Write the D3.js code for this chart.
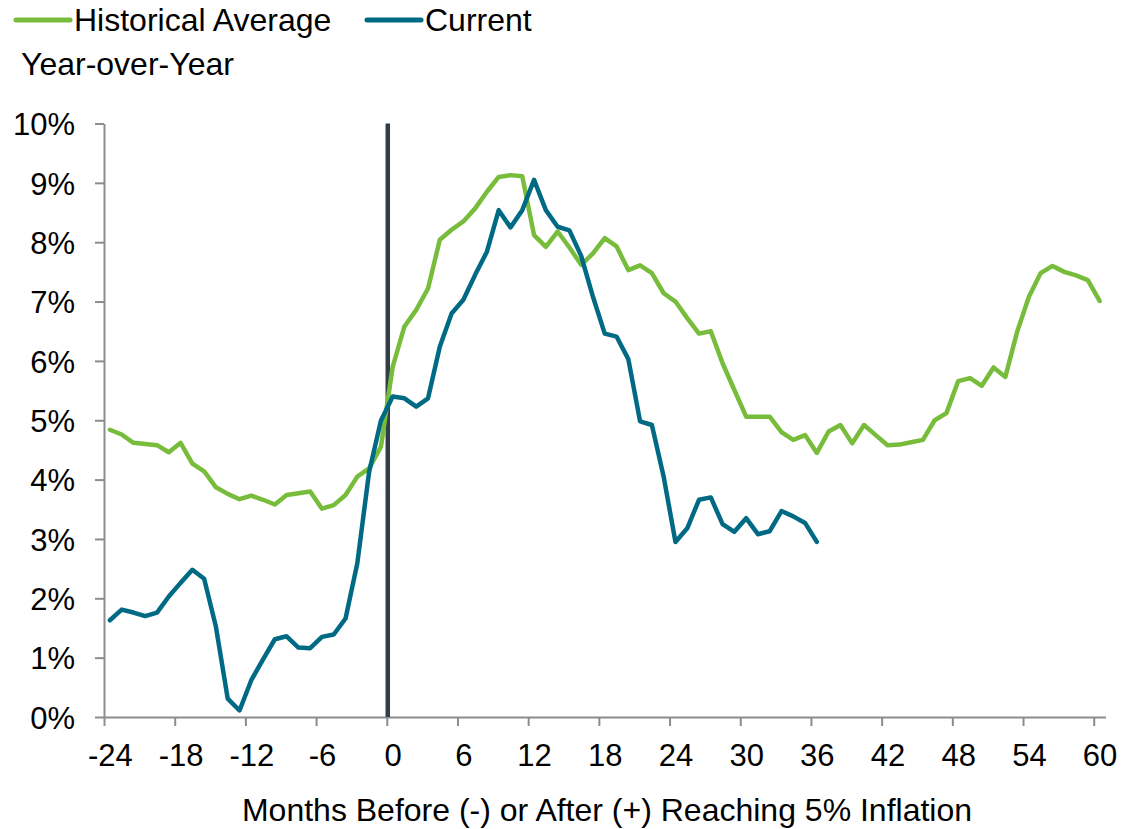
<!DOCTYPE html>
<html>
<head>
<meta charset="utf-8">
<script src="https://cdn.jsdelivr.net/npm/d3@7/dist/d3.min.js"></script>
<style>
  body { margin: 0; background: #fff; }
  svg { display: block; font-family: "Liberation Sans", Arial, sans-serif; }
</style>
</head>
<body>
<div class="chart"></div>
<script>
// months relative to reaching 5% inflation
var histMonths = d3.range(-24, 61);
var currMonths = d3.range(-24, 37);

// year-over-year inflation, percent
var historical = [
  4.84, 4.76, 4.62, 4.60, 4.58, 4.46, 4.62, 4.27, 4.14, 3.87, 3.76, 3.67,
  3.73, 3.66, 3.58, 3.74, 3.77, 3.80, 3.51, 3.57, 3.74, 4.05, 4.19, 4.55,
  5.90, 6.58, 6.86, 7.22, 8.04, 8.21, 8.35, 8.57, 8.85, 9.10, 9.13, 9.11,
  8.12, 7.92, 8.18, 7.91, 7.62, 7.81, 8.07, 7.93, 7.53, 7.61, 7.48, 7.14,
  7.00, 6.72, 6.46, 6.50, 5.96, 5.51, 5.06, 5.06, 5.06, 4.80, 4.67, 4.75,
  4.45, 4.81, 4.92, 4.61, 4.92, 4.75, 4.58, 4.59, 4.63, 4.67, 5.00, 5.12,
  5.66, 5.71, 5.58, 5.89, 5.73, 6.49, 7.08, 7.48, 7.60, 7.50, 7.44, 7.36,
  7.01
];
var current = [
  1.63, 1.81, 1.76, 1.70, 1.76, 2.03, 2.26, 2.48, 2.33, 1.52, 0.31, 0.11,
  0.62, 0.97, 1.31, 1.36, 1.17, 1.16, 1.35, 1.39, 1.66, 2.59, 4.13, 4.99,
  5.40, 5.37, 5.23, 5.37, 6.24, 6.80, 7.03, 7.45, 7.84, 8.54, 8.25, 8.54,
  9.05, 8.54, 8.26, 8.20, 7.77, 7.08, 6.46, 6.41, 6.03, 4.98, 4.92, 4.05,
  2.95, 3.18, 3.66, 3.70, 3.25, 3.12, 3.35, 3.08, 3.13, 3.47, 3.38, 3.27,
  2.95
];
var yTicks = d3.range(0, 11);
var xTicks = d3.range(-24, 61, 6);

var width = 1145, height = 829;
var green = "#77bc3b", teal = "#006a85", axisGrey = "#8c8c8c";

var svg = d3.select(".chart").append("svg")
  .attr("width", width).attr("height", height);

// categories sit between tick marks
var x = d3.scaleLinear().domain([-24.5, 60.5]).range([104, 1105.5]);
var y = d3.scaleLinear().domain([0, 10]).range([717, 123.5]);
var half = x(0) - x(-0.5);

var xAxis = svg.append("g")
  .attr("transform", "translate(0," + y(0) + ")")
  .call(d3.axisBottom(x)
    .tickValues(xTicks.map(function(d) { return d - 0.5; }))
    .tickSize(9).tickSizeOuter(0)
    .tickFormat(function(d) { return d + 0.5; }));
xAxis.selectAll("text").attr("x", half).attr("y", 49).attr("dy", 0)
  .style("font-size", "31px").style("fill", "#000");

var yAxis = svg.append("g")
  .attr("transform", "translate(" + x(-24.5) + ",0)")
  .call(d3.axisLeft(y).tickValues(yTicks).tickSize(9).tickSizeOuter(0)
    .tickFormat(function(d) { return d + "%"; }));
yAxis.selectAll("text").attr("x", -29).attr("dy", "0.36em")
  .style("font-size", "31px").style("fill", "#000");

svg.selectAll(".domain, .tick line")
  .style("stroke", axisGrey).style("stroke-width", 2);
svg.selectAll("g").attr("font-family", null).attr("font-size", null);

// marker at the month inflation reached 5%
svg.append("line")
  .attr("x1", x(-0.5) + 1).attr("x2", x(-0.5) + 1)
  .attr("y1", y(10)).attr("y2", y(0))
  .style("stroke", "#333f48").style("stroke-width", 4.5);

var histData = histMonths.map(function(m, i) { return [m, historical[i]]; });
var currData = currMonths.map(function(m, i) { return [m, current[i]]; });

var line = d3.line()
  .x(function(d) { return x(d[0]); })
  .y(function(d) { return y(d[1]); });

svg.append("path").datum(histData).attr("d", line)
  .style("fill", "none").style("stroke", green).style("stroke-width", 4.5)
  .style("stroke-linejoin", "round").style("stroke-linecap", "round");
svg.append("path").datum(currData).attr("d", line)
  .style("fill", "none").style("stroke", teal).style("stroke-width", 4.5)
  .style("stroke-linejoin", "round").style("stroke-linecap", "round");

// legend
var legend = [
  { name: "Historical Average", color: green, x0: 16 },
  { name: "Current", color: teal, x0: 367 }
];
legend.forEach(function(d) {
  svg.append("line")
    .attr("x1", d.x0).attr("x2", d.x0 + 54).attr("y1", 20).attr("y2", 20)
    .style("stroke", d.color).style("stroke-width", 5).style("stroke-linecap", "round");
  svg.append("text")
    .attr("x", d.x0 + 58).attr("y", 31)
    .style("font-size", "32px").text(d.name);
});

svg.append("text")
  .attr("x", 21).attr("y", 75)
  .style("font-size", "32px").text("Year-over-Year");

svg.append("text")
  .attr("x", 607).attr("y", 821).attr("text-anchor", "middle")
  .style("font-size", "32px")
  .text("Months Before (-) or After (+) Reaching 5% Inflation");
</script>
</body>
</html>
